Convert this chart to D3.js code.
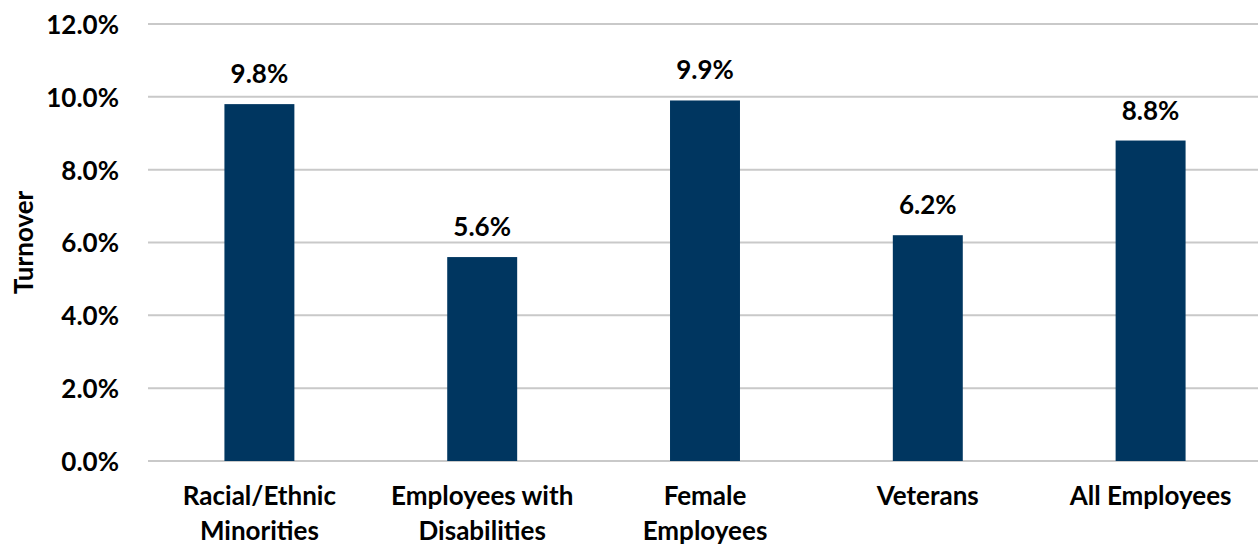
<!DOCTYPE html>
<html><head><meta charset="utf-8">
<script src="https://cdn.jsdelivr.net/npm/d3@7"></script>
<style>html,body{margin:0;padding:0;background:#fff;overflow:hidden}</style>
</head><body>
<svg id="c" width="1258" height="548"></svg>
<script>
const categories = [["Racial/Ethnic","Minorities"],["Employees with","Disabilities"],["Female","Employees"],["Veterans"],["All Employees"]];
const values = [9.8, 5.6, 9.9, 6.2, 8.8];
const yTicks = [0, 2, 4, 6, 8, 10, 12];
const yTitle = "Turnover";

const font = "Lato, 'Open Sans', sans-serif";
const fs = 26;
const svg = d3.select("#c");
const mLeft = 148, mRight = 1262, mTop = 24, mBottom = 461;
const x = d3.scaleBand().domain(d3.range(values.length)).range([mLeft, mRight]).padding(0);
const y = d3.scaleLinear().domain([0, 12]).range([mBottom, mTop]);
const barW = x.bandwidth() * 0.314;

// gridlines
svg.append("g").selectAll("line").data(yTicks).join("line")
  .attr("x1", mLeft).attr("x2", 1258)
  .attr("y1", d => y(d)).attr("y2", d => y(d))
  .attr("stroke", "#c9c9c9").attr("stroke-width", 2);

// y axis labels
const yAxis = d3.axisLeft(y).tickValues(yTicks).tickFormat(d => d.toFixed(1) + "%").tickSize(0).tickPadding(0);
const yg = svg.append("g").attr("transform", `translate(${mLeft - 29},0)`).call(yAxis);
yg.select(".domain").remove();
yg.selectAll("text").attr("font-family", font).attr("font-weight", "bold").attr("font-size", fs).attr("fill", "#000").attr("dy", "0.36em");

// bars
svg.append("g").selectAll("rect").data(values).join("rect")
  .attr("x", (d, i) => x(i) + x.bandwidth() / 2 - barW / 2)
  .attr("width", barW)
  .attr("y", d => y(d)).attr("height", d => y(0) - y(d))
  .attr("fill", "#003660");

// data labels
svg.append("g").selectAll("text").data(values).join("text")
  .attr("x", (d, i) => x(i) + x.bandwidth() / 2)
  .attr("y", d => y(d) - 21)
  .attr("text-anchor", "middle")
  .attr("font-family", font).attr("font-weight", "bold").attr("font-size", fs).attr("fill", "#000")
  .text(d => d.toFixed(1) + "%");

// category labels
const cg = svg.append("g").selectAll("text").data(categories).join("text")
  .attr("text-anchor", "middle")
  .attr("font-family", font).attr("font-weight", "bold").attr("font-size", fs).attr("fill", "#000");
cg.each(function(lines, i) {
  d3.select(this).selectAll("tspan").data(lines).join("tspan")
    .attr("x", x(i) + x.bandwidth() / 2)
    .attr("y", (l, j) => 505 + j * 35)
    .text(l => l);
});

// y title
svg.append("text")
  .attr("transform", `translate(33,${(mTop + mBottom) / 2}) rotate(-90)`)
  .attr("text-anchor", "middle")
  .attr("font-family", font).attr("font-weight", "bold").attr("font-size", fs).attr("fill", "#000")
  .text(yTitle);
</script>
</body></html>
